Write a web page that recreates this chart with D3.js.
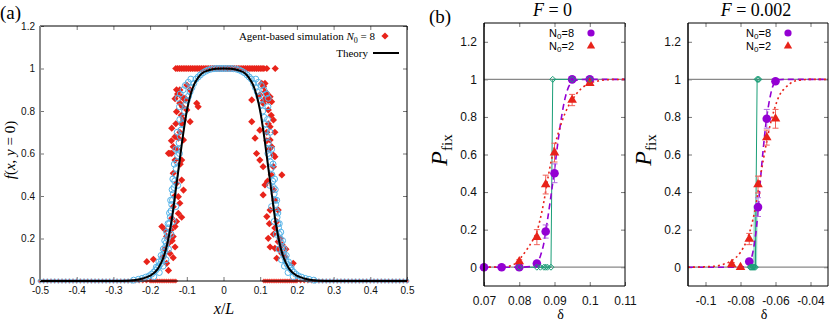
<!DOCTYPE html>
<html>
<head>
<meta charset="utf-8">
<script src="https://cdn.jsdelivr.net/npm/d3@7"></script>
<style>
  body { margin: 0; background: #fff; }
  svg { display: block; }
</style>
</head>
<body>
<div id="chart"></div>
<script>
// ---------- panel (a) data ----------
const xTicksA = [-0.5, -0.4, -0.3, -0.2, -0.1, 0, 0.1, 0.2, 0.3, 0.4, 0.5]
const yTicksA = [0, 0.2, 0.4, 0.6, 0.8, 1, 1.2]

// theory curve f(x, y=0)
const theoryX = [-0.5, -0.3, -0.26, -0.24, -0.22, -0.2, -0.18, -0.17, -0.16, -0.15, -0.14, -0.13, -0.12, -0.11, -0.1, -0.09, -0.08, -0.07, -0.06, -0.04, -0.02, 0,
  0.02, 0.04, 0.06, 0.07, 0.08, 0.09, 0.1, 0.11, 0.12, 0.13, 0.14, 0.15, 0.16, 0.17, 0.18, 0.2, 0.22, 0.24, 0.26, 0.3, 0.5]
const theoryY = [0, 0, 0.001, 0.005, 0.012, 0.025, 0.055, 0.085, 0.13, 0.2, 0.3, 0.43, 0.56, 0.69, 0.8, 0.875, 0.925, 0.955, 0.975, 0.992, 0.999, 1,
  0.999, 0.992, 0.975, 0.955, 0.925, 0.875, 0.8, 0.69, 0.56, 0.43, 0.3, 0.2, 0.13, 0.085, 0.055, 0.025, 0.012, 0.005, 0.001, 0, 0]

// agent-based simulation N0 = 8 (red diamonds)
const simPlateauX = [-0.13, -0.125, -0.12, -0.115, -0.11, -0.105, -0.1, -0.095, -0.09, -0.085, -0.08, -0.075, -0.07, -0.065, -0.06, -0.055, -0.05,
  -0.045, -0.04, -0.035, -0.03, -0.025, -0.02, -0.015, -0.01, -0.005, 0, 0.005, 0.01, 0.015, 0.02, 0.025, 0.03, 0.035, 0.04, 0.045, 0.05,
  0.055, 0.06, 0.065, 0.07, 0.075, 0.08, 0.085, 0.09, 0.095, 0.1, 0.105, 0.11, 0.118, 0.141]
const simFront = [
  [-0.119, 0.899], [-0.114, 0.867], [-0.132, 0.858], [-0.105, 0.852], [-0.112, 0.82], [-0.1, 0.805], [-0.073, 0.836], [-0.069, 0.82],
  [-0.141, 0.719], [-0.132, 0.679], [-0.114, 0.74], [-0.119, 0.7], [-0.137, 0.632], [-0.15, 0.601], [-0.141, 0.601], [-0.1, 0.922],
  [-0.091, 0.899], [-0.119, 0.837], [-0.105, 0.86], [-0.128, 0.797], [-0.109, 0.758], [-0.091, 0.75], [-0.123, 0.672], [-0.109, 0.664],
  [-0.146, 0.601], [-0.132, 0.569], [-0.114, 0.569], [-0.137, 0.507], [-0.114, 0.475], [-0.109, 0.428], [-0.123, 0.397], [-0.119, 0.366],
  [-0.137, 0.35], [-0.123, 0.318], [-0.141, 0.295], [-0.114, 0.3], [-0.168, 0.256], [-0.159, 0.24], [-0.132, 0.256], [-0.137, 0.209],
  [-0.15, 0.177], [-0.132, 0.16], [-0.146, 0.13], [-0.164, 0.114], [-0.137, 0.11], [-0.209, 0.091], [-0.191, 0.102], [-0.155, 0.083],
  [-0.15, 0.05], [-0.125, 0.88], [-0.128, 0.9], [-0.115, 0.78], [-0.13, 0.74], [-0.142, 0.66], [-0.127, 0.62], [-0.118, 0.55],
  [-0.128, 0.46], [-0.133, 0.4], [-0.128, 0.28], [-0.143, 0.24], [-0.155, 0.21], [-0.16, 0.15], [-0.14, 0.19],
  [0.104, 0.93], [0.113, 0.93], [0.099, 0.875], [0.118, 0.867], [0.109, 0.85], [0.127, 0.867], [0.131, 0.844], [0.122, 0.805],
  [0.136, 0.758], [0.127, 0.726], [0.118, 0.7], [0.099, 0.71], [0.131, 0.632], [0.118, 0.66], [0.14, 0.585], [0.09, 0.6],
  [0.109, 0.915], [0.118, 0.883], [0.077, 0.852], [0.108, 0.836], [0.077, 0.75], [0.086, 0.672], [0.127, 0.664], [0.136, 0.593],
  [0.099, 0.569], [0.108, 0.538], [0.136, 0.538], [0.159, 0.499], [0.113, 0.452], [0.108, 0.405], [0.136, 0.43], [0.127, 0.334],
  [0.118, 0.303], [0.149, 0.334], [0.145, 0.279], [0.122, 0.201], [0.136, 0.22], [0.149, 0.185], [0.14, 0.154], [0.127, 0.16],
  [0.159, 0.13], [0.145, 0.107], [0.168, 0.114], [0.17, 0.15], [0.19, 0.083], [0.113, 0.89], [0.122, 0.85], [0.13, 0.78],
  [0.122, 0.74], [0.14, 0.7], [0.125, 0.62], [0.13, 0.5], [0.12, 0.47], [0.14, 0.38], [0.125, 0.27], [0.14, 0.25], [0.155, 0.2],
  [0.15, 0.15], [0.16, 0.17]
]
const simZeroX = [-0.5, -0.49, -0.48, -0.47, -0.46, -0.45, -0.44, -0.43, -0.42, -0.41, -0.4, -0.39, -0.38, -0.37, -0.36, -0.35, -0.34, -0.33,
  -0.32, -0.31, -0.3, -0.29, -0.28, -0.27, -0.26, -0.25, -0.24, -0.23, -0.22, -0.21, -0.2, -0.195, -0.19, -0.185, -0.18, -0.175, -0.17,
  -0.165, -0.16, -0.155, -0.15, -0.145, -0.14, -0.135, -0.13,
  0.11, 0.115, 0.12, 0.125, 0.13, 0.135, 0.14, 0.145, 0.15, 0.155, 0.16, 0.165, 0.17, 0.175, 0.18, 0.185, 0.19, 0.195, 0.2, 0.21, 0.22,
  0.23, 0.24, 0.25, 0.26, 0.27, 0.28, 0.29, 0.3, 0.31, 0.32, 0.33, 0.34, 0.35, 0.36, 0.37, 0.38, 0.39, 0.4, 0.41, 0.42, 0.43, 0.44, 0.45,
  0.46, 0.47, 0.48, 0.49, 0.5]

// second data set (light blue open circles), hugging the theory line
const circFront = [
  [-0.245, 0.004], [-0.232, 0.008], [-0.222, 0.012], [-0.212, 0.018], [-0.203, 0.024], [-0.196, 0.032], [-0.19, 0.042], [-0.185, 0.05],
  [-0.18, 0.06], [-0.176, 0.07], [-0.172, 0.08], [-0.169, 0.095], [-0.166, 0.11], [-0.163, 0.125], [-0.16, 0.14], [-0.158, 0.16],
  [-0.156, 0.18], [-0.153, 0.2], [-0.151, 0.22], [-0.149, 0.25], [-0.147, 0.27], [-0.145, 0.3], [-0.143, 0.33], [-0.141, 0.36],
  [-0.139, 0.38], [-0.137, 0.41], [-0.135, 0.44], [-0.133, 0.47], [-0.131, 0.5], [-0.129, 0.53], [-0.127, 0.56], [-0.125, 0.59],
  [-0.123, 0.62], [-0.121, 0.65], [-0.118, 0.68], [-0.116, 0.71], [-0.113, 0.74], [-0.11, 0.77], [-0.106, 0.8], [-0.103, 0.83],
  [-0.099, 0.85], [-0.095, 0.87], [-0.091, 0.89], [-0.086, 0.91], [-0.081, 0.93], [-0.075, 0.95], [-0.069, 0.96], [-0.063, 0.97],
  [-0.056, 0.98], [-0.049, 0.987], [-0.042, 0.993], [-0.034, 0.997], [-0.026, 0.999], [-0.018, 1], [-0.01, 1], [-0.003, 1],
  [-0.124, 0.86], [-0.118, 0.88], [-0.11, 0.9], [-0.104, 0.92], [-0.096, 0.935], [-0.089, 0.95], [-0.12, 0.82], [-0.119, 0.76],
  [-0.126, 0.7], [-0.13, 0.62], [-0.134, 0.55], [-0.138, 0.48], [-0.14, 0.43], [-0.144, 0.38], [-0.147, 0.32], [-0.151, 0.27],
  [-0.155, 0.23], [-0.16, 0.19], [-0.164, 0.15], [-0.17, 0.12], [-0.176, 0.09], [-0.183, 0.065], [-0.125, 0.45], [-0.12, 0.6],
  [-0.13, 0.35], [-0.137, 0.28], [-0.143, 0.22], [-0.15, 0.15], [-0.157, 0.1], [-0.165, 0.07], [-0.175, 0.04], [-0.19, 0.02],
  [0.003, 1], [0.011, 1], [0.019, 1], [0.027, 0.999], [0.035, 0.997], [0.043, 0.993], [0.05, 0.987], [0.057, 0.98], [0.064, 0.97],
  [0.07, 0.96], [0.076, 0.95], [0.082, 0.93], [0.087, 0.91], [0.092, 0.89], [0.096, 0.87], [0.1, 0.85], [0.104, 0.83], [0.107, 0.8],
  [0.111, 0.77], [0.114, 0.74], [0.117, 0.71], [0.119, 0.68], [0.122, 0.65], [0.124, 0.62], [0.126, 0.59], [0.128, 0.56],
  [0.13, 0.53], [0.132, 0.5], [0.134, 0.47], [0.136, 0.44], [0.138, 0.41], [0.14, 0.38], [0.142, 0.36], [0.144, 0.33], [0.146, 0.3],
  [0.148, 0.27], [0.15, 0.25], [0.152, 0.22], [0.154, 0.2], [0.157, 0.18], [0.159, 0.16], [0.161, 0.14], [0.164, 0.125],
  [0.167, 0.11], [0.17, 0.095], [0.173, 0.08], [0.177, 0.07], [0.181, 0.06], [0.186, 0.05], [0.191, 0.042], [0.197, 0.032],
  [0.204, 0.024], [0.213, 0.018], [0.223, 0.012], [0.233, 0.008], [0.246, 0.004],
  [0.122, 0.86], [0.117, 0.88], [0.11, 0.9], [0.103, 0.92], [0.095, 0.935], [0.088, 0.95], [0.121, 0.82], [0.12, 0.76],
  [0.127, 0.7], [0.131, 0.62], [0.135, 0.55], [0.139, 0.48], [0.141, 0.43], [0.145, 0.38], [0.148, 0.32], [0.152, 0.27],
  [0.156, 0.23], [0.161, 0.19], [0.165, 0.15], [0.171, 0.12], [0.177, 0.09], [0.184, 0.065], [0.126, 0.45], [0.121, 0.6],
  [0.131, 0.35], [0.138, 0.28], [0.144, 0.22], [0.151, 0.15], [0.158, 0.1], [0.166, 0.07], [0.176, 0.04], [0.19, 0.02]
]
const circZeroX = [-0.5, -0.49, -0.48, -0.47, -0.46, -0.45, -0.44, -0.43, -0.42, -0.41, -0.4, -0.39, -0.38, -0.37, -0.36, -0.35, -0.34,
  -0.33, -0.32, -0.31, -0.3, -0.29, -0.28, -0.27, -0.26, -0.25, 0.25, 0.26, 0.27, 0.28, 0.29, 0.3, 0.31, 0.32, 0.33, 0.34,
  0.35, 0.36, 0.37, 0.38, 0.39, 0.4, 0.41, 0.42, 0.43, 0.44, 0.45, 0.46, 0.47, 0.48, 0.49, 0.5]

// ---------- panel (b) data ----------
const yTicksB = [0, 0.2, 0.4, 0.6, 0.8, 1, 1.2]

// F = 0
const xTicksF0 = [0.07, 0.08, 0.09, 0.1, 0.11]
const n8DeltaF0 = [0.07, 0.075, 0.08, 0.085, 0.0875, 0.09, 0.095, 0.1]
const n8PF0 = [0, 0, 0, 0.02, 0.19, 0.5, 1, 1]
const n8ErrF0 = [0, 0, 0, 0.01, 0.035, 0.05, 0, 0]
const n2DeltaF0 = [0.08, 0.085, 0.0875, 0.09, 0.095, 0.1]
const n2PF0 = [0.03, 0.16, 0.44, 0.61, 0.89, 0.98]
const n2ErrF0 = [0.01, 0.04, 0.05, 0.05, 0.03, 0.01]
const fit8XF0 = [0.07, 0.08, 0.084, 0.085, 0.086, 0.087, 0.088, 0.089, 0.09, 0.091, 0.092, 0.093, 0.094, 0.095, 0.097, 0.1, 0.11]
const fit8YF0 = [0, 0, 0.005, 0.02, 0.06, 0.13, 0.25, 0.38, 0.52, 0.67, 0.8, 0.9, 0.96, 0.985, 0.998, 1, 1]
const fit2XF0 = [0.07, 0.076, 0.079, 0.08, 0.082, 0.084, 0.085, 0.086, 0.087, 0.088, 0.089, 0.09, 0.091, 0.092, 0.093, 0.094, 0.095,
  0.097, 0.099, 0.1, 0.102, 0.105, 0.11]
const fit2YF0 = [0, 0.003, 0.02, 0.04, 0.09, 0.15, 0.19, 0.26, 0.35, 0.46, 0.56, 0.64, 0.71, 0.77, 0.82, 0.86, 0.89,
  0.94, 0.97, 0.98, 0.99, 0.998, 1]
const stepXF0 = [0.08, 0.085, 0.086, 0.087, 0.0875, 0.088, 0.089, 0.0895, 0.095, 0.1]
const stepYF0 = [0, 0, 0, 0, 0, 0, 0, 1, 1, 1]

// F = 0.002
const xTicksF2 = [-0.1, -0.08, -0.06, -0.04]
const n8DeltaF2 = [-0.075, -0.07, -0.065, -0.06]
const n8PF2 = [0.03, 0.32, 0.79, 0.99]
const n8ErrF2 = [0.01, 0.05, 0.05, 0.01]
const n2DeltaF2 = [-0.085, -0.08, -0.075, -0.07, -0.065, -0.06]
const n2PF2 = [0.015, 0, 0.15, 0.44, 0.69, 0.79]
const n2ErrF2 = [0.01, 0, 0.03, 0.045, 0.04, 0.05]
const fit8XF2 = [-0.11, -0.08, -0.076, -0.074, -0.072, -0.071, -0.07, -0.069, -0.068, -0.067, -0.066, -0.065, -0.064, -0.063, -0.062,
  -0.061, -0.06, -0.058, -0.055, -0.03]
const fit8YF2 = [0, 0, 0.01, 0.04, 0.13, 0.2, 0.3, 0.42, 0.53, 0.63, 0.72, 0.8, 0.86, 0.91, 0.95, 0.975, 0.99, 0.998, 1, 1]
const fit2XF2 = [-0.11, -0.095, -0.09, -0.085, -0.08, -0.077, -0.075, -0.073, -0.071, -0.07, -0.069, -0.067, -0.065, -0.063, -0.061,
  -0.06, -0.058, -0.055, -0.052, -0.05, -0.045, -0.04, -0.03]
const fit2YF2 = [0, 0.005, 0.015, 0.035, 0.08, 0.13, 0.18, 0.25, 0.34, 0.4, 0.46, 0.57, 0.67, 0.76, 0.83, 0.86, 0.91, 0.95, 0.975,
  0.988, 0.997, 1, 1]
const stepXF2 = [-0.0745, -0.074, -0.0735, -0.073, -0.0725, -0.072, -0.0715, -0.0705, -0.07, -0.0695]
const stepYF2 = [0, 0, 0, 0, 0, 0, 0, 1, 1, 1]

// ---------- drawing ----------
const sans = 'Liberation Sans, Arial, Helvetica, sans-serif'
const serif = 'Liberation Serif, Times New Roman, serif'
const RED = '#e8231a', BLUE = '#56b4e9', PURPLE = '#9400d3', TEAL = '#1a9e77'

const svg = d3.select('#chart').append('svg')
  .attr('width', 830).attr('height', 322)
  .style('font-family', sans)

const fmt = d => String(+d.toFixed(3))
const diamondPath = (h) => d => {
  const [x, y] = d
  return `M${x},${y - h}L${x + h},${y}L${x},${y + h}L${x - h},${y}Z`
}
const zip = (xs, ys) => xs.map((x, i) => [x, ys[i]])

const styleAxis = (g, fs) => {
  g.select('.domain').remove()
  g.selectAll('.tick line').attr('stroke', '#777')
  g.selectAll('.tick text').attr('fill', '#111').style('font-size', fs + 'px').style('font-family', sans)
}

// ================= panel (a) =================
const xA = d3.scaleLinear().domain([-0.5, 0.5]).range([40, 407])
const yA = d3.scaleLinear().domain([0, 1.2]).range([281, 26])
const gA = svg.append('g')

gA.append('g').attr('transform', 'translate(0,281)')
  .call(d3.axisBottom(xA).tickValues(xTicksA).tickFormat(fmt).tickSizeInner(-4).tickSizeOuter(0).tickPadding(6))
  .call(g => styleAxis(g, 10))
gA.append('g').attr('transform', 'translate(0,26)')
  .call(d3.axisTop(xA).tickValues(xTicksA).tickFormat('').tickSizeInner(-4).tickSizeOuter(0))
  .call(g => styleAxis(g, 10))
gA.append('g').attr('transform', 'translate(40,0)')
  .call(d3.axisLeft(yA).tickValues(yTicksA).tickFormat(fmt).tickSizeInner(-4).tickSizeOuter(0).tickPadding(5))
  .call(g => styleAxis(g, 10))
gA.append('g').attr('transform', 'translate(407,0)')
  .call(d3.axisRight(yA).tickValues(yTicksA).tickFormat('').tickSizeInner(-4).tickSizeOuter(0))
  .call(g => styleAxis(g, 10))
// nudge the lowest y label up a little so it clears "-0.5"
gA.selectAll('.tick text').filter(d => d === 0 && false)

// red diamonds
const simPts = simPlateauX.map(x => [x, 1]).concat(simFront)
gA.append('g').selectAll('path.sim').data(simPts).enter().append('path')
  .attr('d', d => diamondPath(3.6)([xA(d[0]), yA(d[1])]))
  .attr('fill', RED)
gA.append('g').selectAll('path.simz').data(simZeroX).enter().append('path')
  .attr('d', d => diamondPath(2.4)([xA(d), yA(0)]))
  .attr('fill', RED).attr('opacity', 0.85)

// blue open circles
gA.append('g').selectAll('circle.c').data(circFront).enter().append('circle')
  .attr('cx', d => xA(d[0])).attr('cy', d => yA(d[1])).attr('r', 3)
  .attr('fill', 'none').attr('stroke', BLUE).attr('stroke-width', 1)
gA.append('g').selectAll('circle.cz').data(circZeroX).enter().append('circle')
  .attr('cx', d => xA(d)).attr('cy', yA(0)).attr('r', 2)
  .attr('fill', 'none').attr('stroke', BLUE).attr('stroke-width', 0.9).attr('opacity', 0.8)

// theory line
gA.append('path').datum(zip(theoryX, theoryY))
  .attr('fill', 'none').attr('stroke', '#000').attr('stroke-width', 2)
  .attr('d', d3.line().x(d => xA(d[0])).y(d => yA(d[1])).curve(d3.curveMonotoneX))

// frame
gA.append('path').attr('d', `M40,26H407V281H40`).attr('fill', 'none').attr('stroke', '#000').attr('stroke-width', 1)
gA.append('line').attr('x1', 40).attr('x2', 40).attr('y1', 26).attr('y2', 281).attr('stroke', '#888').attr('stroke-width', 2)

// legend
const legA = gA.append('g').style('font-family', serif).style('font-size', '11px')
const t1 = legA.append('text').attr('x', 375).attr('y', 40).attr('text-anchor', 'end')
t1.append('tspan').text('Agent-based simulation ')
t1.append('tspan').attr('font-style', 'italic').text('N')
t1.append('tspan').attr('dy', 3).style('font-size', '8px').text('0')
t1.append('tspan').attr('dy', -3).text(' = 8')
legA.append('path').attr('d', diamondPath(3.6)([385, 36])).attr('fill', RED)
legA.append('text').attr('x', 368).attr('y', 57).attr('text-anchor', 'end').text('Theory')
legA.append('line').attr('x1', 373).attr('x2', 399).attr('y1', 53).attr('y2', 53).attr('stroke', '#000').attr('stroke-width', 2)

// labels
svg.append('text').attr('x', 0).attr('y', 19).style('font-family', serif).style('font-size', '19px').text('(a)')
const xl = svg.append('text').attr('x', 224).attr('y', 314).attr('text-anchor', 'middle')
  .style('font-family', serif).style('font-size', '16px')
xl.append('tspan').attr('font-style', 'italic').text('x')
xl.append('tspan').text('/')
xl.append('tspan').attr('font-style', 'italic').text('L')
const yl = svg.append('text').attr('transform', 'translate(15,150) rotate(-90)').attr('text-anchor', 'middle')
  .style('font-family', serif).style('font-size', '15px')
yl.append('tspan').attr('font-style', 'italic').text('f')
yl.append('tspan').text('(')
yl.append('tspan').attr('font-style', 'italic').text('x')
yl.append('tspan').text(', ')
yl.append('tspan').attr('font-style', 'italic').text('y')
yl.append('tspan').text(' = 0)')

// ================= panel (b) =================
svg.append('text').attr('x', 429).attr('y', 23).style('font-family', serif).style('font-size', '19px').text('(b)')

const drawPanelB = (o) => {
  const x = d3.scaleLinear().domain(o.xDomain).range(o.xRange)
  const y = d3.scaleLinear().domain([-0.1, 1.3]).range([286, 23])
  const [x0, x1] = o.xRange
  const g = svg.append('g')
  const cx = (x0 + x1) / 2

  g.append('g').attr('transform', 'translate(0,286)')
    .call(d3.axisBottom(x).tickValues(o.xTicks).tickFormat(fmt).tickSizeInner(-4).tickSizeOuter(0).tickPadding(10))
    .call(a => styleAxis(a, 12))
  g.append('g').attr('transform', 'translate(0,23)')
    .call(d3.axisTop(x).tickValues(o.xTicks).tickFormat('').tickSizeInner(-4).tickSizeOuter(0))
    .call(a => styleAxis(a, 12))
  g.append('g').attr('transform', `translate(${x0},0)`)
    .call(d3.axisLeft(y).tickValues(yTicksB).tickFormat(fmt).tickSizeInner(-4).tickSizeOuter(0).tickPadding(7))
    .call(a => styleAxis(a, 12))
  g.append('g').attr('transform', `translate(${x1},0)`)
    .call(d3.axisRight(y).tickValues(yTicksB).tickFormat('').tickSizeInner(-4).tickSizeOuter(0))
    .call(a => styleAxis(a, 12))

  // guide lines at 0 and 1
  ;[0, 1].forEach(v => g.append('line').attr('x1', x0).attr('x2', x1).attr('y1', y(v)).attr('y2', y(v))
    .attr('stroke', '#888').attr('stroke-width', 1.2))

  const line = d3.line().x(d => x(d[0])).y(d => y(d[1]))

  // step (teal) data
  if (o.band) g.append('path').datum(o.band).attr('d', line).attr('fill', 'none')
    .attr('stroke', '#9fdcc9').attr('stroke-width', 4)
  const step = zip(o.stepX, o.stepY)
  g.append('path').datum(step).attr('d', line).attr('fill', 'none').attr('stroke', TEAL).attr('stroke-width', 1)

  // fits
  g.append('path').datum(zip(o.fit8X, o.fit8Y)).attr('d', line.curve(d3.curveMonotoneX)).attr('fill', 'none')
    .attr('stroke', PURPLE).attr('stroke-width', 1.6).attr('stroke-dasharray', '6,4')
  g.append('path').datum(zip(o.fit2X, o.fit2Y)).attr('d', line.curve(d3.curveMonotoneX)).attr('fill', 'none')
    .attr('stroke', RED).attr('stroke-width', 1.6).attr('stroke-dasharray', '2,3')

  // error bars
  const errBars = (xs, ys, es, col) => {
    const d = xs.map((v, i) => [v, ys[i], es[i]]).filter(e => e[2] > 0)
    const eb = g.append('g').attr('stroke', col).attr('stroke-width', 1).attr('fill', 'none')
    eb.selectAll('path').data(d).enter().append('path')
      .attr('d', e => {
        const px = x(e[0]), lo = y(e[1] - e[2]), hi = y(e[1] + e[2])
        return `M${px},${lo}V${hi}M${px - 3},${lo}H${px + 3}M${px - 3},${hi}H${px + 3}`
      })
  }
  errBars(o.n8X, o.n8P, o.n8E, '#b36be0')
  errBars(o.n2X, o.n2P, o.n2E, '#f0615a')

  // N0 = 8 circles
  g.append('g').selectAll('circle').data(zip(o.n8X, o.n8P)).enter().append('circle')
    .attr('cx', d => x(d[0])).attr('cy', d => y(d[1])).attr('r', 4.3).attr('fill', PURPLE)
  // N0 = 2 triangles
  const tri = d3.symbol().type(d3.symbolTriangle).size(40)
  g.append('g').selectAll('path').data(zip(o.n2X, o.n2P)).enter().append('path')
    .attr('transform', d => `translate(${x(d[0])},${y(d[1])})`).attr('d', tri).attr('fill', RED)
  // step markers (open diamonds)
  g.append('g').selectAll('path').data(step).enter().append('path')
    .attr('d', d => diamondPath(3)([x(d[0]), y(d[1])]))
    .attr('fill', 'none').attr('stroke', TEAL).attr('stroke-width', 1)

  // frame
  g.append('path').attr('d', `M${x0},23H${x1}V286H${x0}`).attr('fill', 'none').attr('stroke', '#000').attr('stroke-width', 1)
  g.append('line').attr('x1', x0).attr('x2', x0).attr('y1', 23).attr('y2', 286).attr('stroke', '#000').attr('stroke-width', 1.5)

  // title
  const tt = g.append('text').attr('x', cx - 2).attr('y', 16).attr('text-anchor', 'middle')
    .style('font-family', serif).style('font-size', '18px')
  tt.append('tspan').attr('font-style', 'italic').text('F')
  tt.append('tspan').text(' = ' + o.title)

  // axis labels
  g.append('text').attr('x', cx + 6).attr('y', 319).attr('text-anchor', 'middle')
    .style('font-family', serif).style('font-size', '14px').text('δ')
  const pl = g.append('text').attr('transform', `translate(${o.pX},150) rotate(-90)`).attr('text-anchor', 'middle')
    .style('font-family', serif)
  pl.append('tspan').attr('font-style', 'italic').style('font-size', '24px').text('P')
  pl.append('tspan').attr('dy', 5).style('font-size', '15px').text('fix')

  // legend
  const lg = g.append('g').style('font-family', sans).style('font-size', '11px')
  const l1 = lg.append('text').attr('x', o.legX).attr('y', 37).attr('text-anchor', 'end')
  l1.append('tspan').text('N')
  l1.append('tspan').attr('dy', 2).style('font-size', '8px').text('0')
  l1.append('tspan').attr('dy', -2).text('=8')
  lg.append('circle').attr('cx', o.legX + 17).attr('cy', 33).attr('r', 3.6).attr('fill', PURPLE)
  const l2 = lg.append('text').attr('x', o.legX).attr('y', 50).attr('text-anchor', 'end')
  l2.append('tspan').text('N')
  l2.append('tspan').attr('dy', 2).style('font-size', '8px').text('0')
  l2.append('tspan').attr('dy', -2).text('=2')
  lg.append('path').attr('transform', `translate(${o.legX + 17},46)`).attr('d', d3.symbol().type(d3.symbolTriangle).size(30)).attr('fill', RED)
}

drawPanelB({
  xDomain: [0.07, 0.11], xRange: [484, 625], xTicks: xTicksF0, title: '0', pX: 447, legX: 574,
  n8X: n8DeltaF0, n8P: n8PF0, n8E: n8ErrF0, n2X: n2DeltaF0, n2P: n2PF0, n2E: n2ErrF0,
  fit8X: fit8XF0, fit8Y: fit8YF0, fit2X: fit2XF0, fit2Y: fit2YF0, stepX: stepXF0, stepY: stepYF0
})
drawPanelB({
  xDomain: [-0.11, -0.03], xRange: [688, 828], xTicks: xTicksF2, title: '0.002', pX: 651, legX: 771,
  n8X: n8DeltaF2, n8P: n8PF2, n8E: n8ErrF2, n2X: n2DeltaF2, n2P: n2PF2, n2E: n2ErrF2,
  fit8X: fit8XF2, fit8Y: fit8YF2, fit2X: fit2XF2, fit2Y: fit2YF2, stepX: stepXF2, stepY: stepYF2,
  band: [[-0.0717, 0], [-0.0713, 0.33]]
})
</script>
</body>
</html>
